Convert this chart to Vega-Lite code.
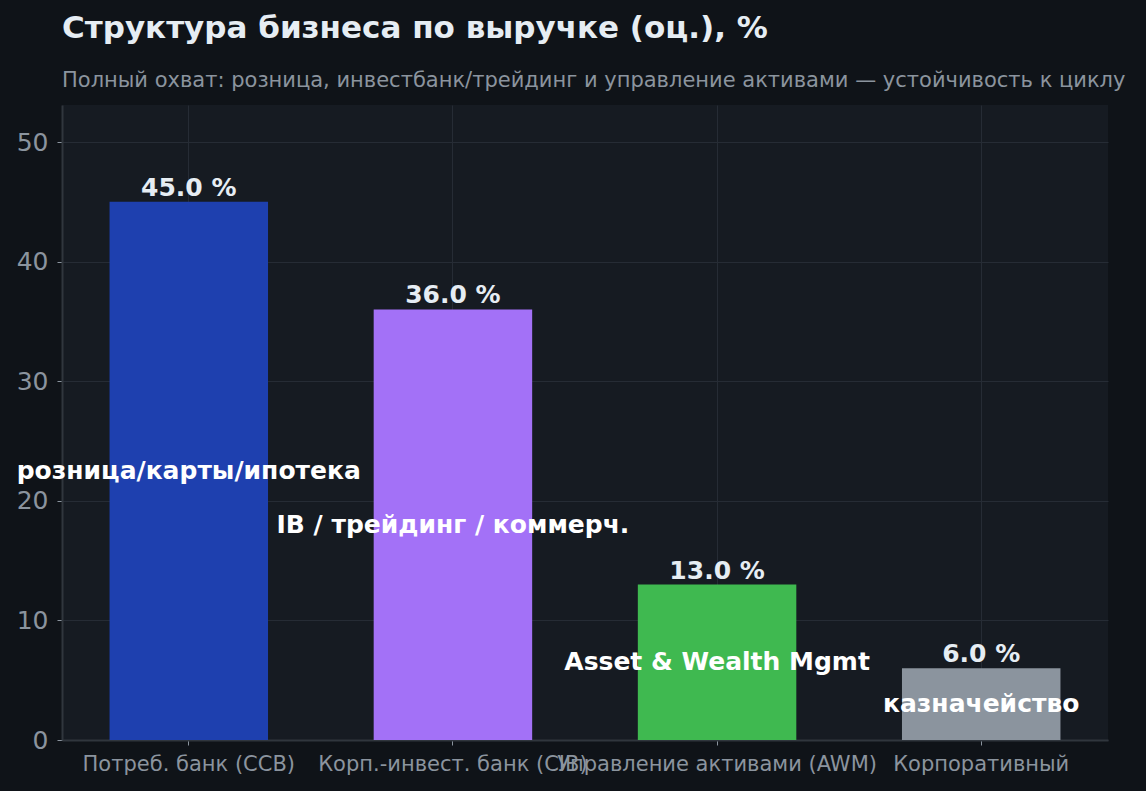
{
  "$schema": "https://vega.github.io/schema/vega-lite/v6.json",
  "width": 1046,
  "height": 635,
  "autosize": {"type": "none"},
  "padding": {"left": 62, "top": 105, "right": 38, "bottom": 51},
  "background": "#0f1318",
  "title": {
    "text": "Структура бизнеса по выручке (оц.), %",
    "subtitle": "Полный охват: розница, инвестбанк/трейдинг и управление активами — устойчивость к циклу",
    "anchor": "start",
    "frame": "group",
    "font": "DejaVu Sans",
    "fontSize": 31,
    "fontWeight": "bold",
    "color": "#e6edf3",
    "subtitleFont": "DejaVu Sans",
    "subtitleFontSize": 21,
    "subtitleColor": "#8b949e",
    "subtitlePadding": 25,
    "offset": 13
  },
  "config": {
    "view": {"fill": "#161b22", "stroke": null},
    "axis": {
      "labelFont": "DejaVu Sans",
      "labelColor": "#8b949e",
      "domainColor": "#30363d",
      "domainWidth": 2,
      "tickColor": "#8b949e",
      "tickSize": 5,
      "gridColor": "#262c35",
      "gridWidth": 1,
      "title": null
    }
  },
  "data": {
    "values": [
      {"segment": "Потреб. банк (CCB)", "value": 45.0, "inner": "розница/карты/ипотека"},
      {"segment": "Корп.-инвест. банк (CIB)", "value": 36.0, "inner": "IB / трейдинг / коммерч."},
      {"segment": "Управление активами (AWM)", "value": 13.0, "inner": "Asset & Wealth Mgmt"},
      {"segment": "Корпоративный", "value": 6.0, "inner": "казначейство"}
    ]
  },
  "transform": [
    {"calculate": "format(datum.value, '.1f') + ' %'", "as": "valueLabel"},
    {"calculate": "datum.value / 2", "as": "mid"}
  ],
  "encoding": {
    "x": {
      "field": "segment",
      "type": "nominal",
      "sort": null,
      "scale": {"paddingInner": 0.4, "paddingOuter": 0.18},
      "axis": {
        "labelAngle": 0,
        "labelFontSize": 21,
        "labelPadding": 8,
        "labelOverlap": false,
        "labelLimit": 0,
        "grid": true,
        "bandPosition": 0.5,
        "domain": true
      }
    },
    "y": {
      "field": "value",
      "type": "quantitative",
      "scale": {"domain": [0, 53.1], "nice": false},
      "axis": {
        "values": [0, 10, 20, 30, 40, 50],
        "labelFontSize": 25,
        "labelPadding": 9,
        "grid": true
      }
    }
  },
  "layer": [
    {
      "mark": {"type": "bar"},
      "encoding": {
        "color": {
          "field": "segment",
          "type": "nominal",
          "legend": null,
          "scale": {
            "domain": ["Потреб. банк (CCB)", "Корп.-инвест. банк (CIB)", "Управление активами (AWM)", "Корпоративный"],
            "range": ["#1e40af", "#a371f7", "#3fb950", "#8b949e"]
          }
        }
      }
    },
    {
      "mark": {
        "type": "text",
        "baseline": "alphabetic",
        "dy": -6,
        "font": "DejaVu Sans",
        "fontSize": 25,
        "fontWeight": "bold",
        "color": "#e6edf3"
      },
      "encoding": {"text": {"field": "valueLabel"}}
    },
    {
      "mark": {
        "type": "text",
        "baseline": "middle",
        "font": "DejaVu Sans",
        "fontSize": 25,
        "fontWeight": "bold",
        "color": "#ffffff"
      },
      "encoding": {
        "y": {"field": "mid", "type": "quantitative"},
        "text": {"field": "inner"}
      }
    }
  ]
}
